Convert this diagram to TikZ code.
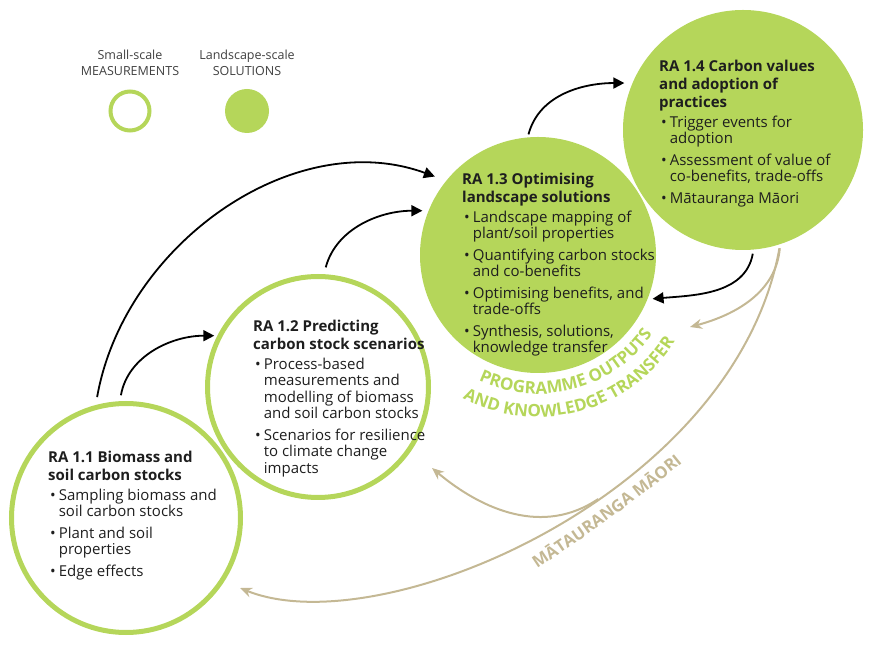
\documentclass[tikz,border=0pt]{standalone}
\usepackage{fontspec}
\setmainfont{Open Sans}
\usetikzlibrary{arrows.meta,decorations.text}
\definecolor{feuille}{RGB}{181,214,90}
\definecolor{sable}{RGB}{196,184,148}
\definecolor{encre}{RGB}{30,30,30}

\begin{document}
\begin{tikzpicture}[
    x=1pt, y=1pt,
    ra/.style={circle, inner sep=0pt, minimum size=#1},
    creux/.style={draw=feuille, line width=5pt},
    plein/.style={fill=feuille},
    texte/.style={anchor=north west, align=left, inner sep=0pt, text=encre,
      font=\fontsize{15}{16.5}\selectfont},
    legende/.style={align=center, inner sep=0pt, text=encre!85,
      font=\fontsize{12.5}{16}\selectfont},
    fleche/.style={line width=1.8pt, -{Triangle[length=11pt,width=11pt]}},
    retour/.style={draw=sable, line width=2pt, -{Stealth[length=12pt,width=10pt]}},
  ]
  \useasboundingbox (0,0) rectangle (870,645);

  % legende
  \node[ra=39, creux, line width=4pt] (leg1) at (130,534) {};
  \node[ra=44, plein] (leg2) at (247,534) {};
  \node[legende] (lt1) at (130,582) {Small-scale\\MEASUREMENTS};
  \node[legende] (lt2) at (247,582) {Landscape-scale\\SOLUTIONS};

  % les quatre cercles
  \node[ra=229, creux] (ra11) at (126,127) {};
  \node[ra=221, creux] (ra12) at (318,258) {};
  \node[ra=236, plein] (ra13) at (538,390) {};
  \node[ra=240, plein] (ra14) at (743,515) {};

  \node[texte] (t11) at (48,194.5) {\textbf{RA 1.1 Biomass and}\\[1.5pt]\textbf{soil carbon stocks}\\[3.5pt]
    \begin{tabular}[t]{@{\hspace{2pt}}l@{\hspace{3pt}}l@{}}
      \textbullet & Sampling biomass and\\ & soil carbon stocks\\[5pt]
      \textbullet & Plant and soil\\ & properties\\[5pt]
      \textbullet & Edge effects
    \end{tabular}};
  \node[texte] (t12) at (253,325.5) {\textbf{RA 1.2 Predicting}\\[1.5pt]\textbf{carbon stock scenarios}\\[3.5pt]
    \begin{tabular}[t]{@{\hspace{2pt}}l@{\hspace{3pt}}l@{}}
      \textbullet & Process-based\\ & measurements and\\ & modelling of biomass\\ & and soil carbon stocks\\[5pt]
      \textbullet & Scenarios for resilience\\ & to climate change\\ & impacts
    \end{tabular}};
  \node[texte] (t13) at (462,472.5) {\textbf{RA 1.3 Optimising}\\[1.5pt]\textbf{landscape solutions}\\[3.5pt]
    \begin{tabular}[t]{@{\hspace{2pt}}l@{\hspace{3pt}}l@{}}
      \textbullet & Landscape mapping of\\ & plant/soil properties\\[5pt]
      \textbullet & Quantifying carbon stocks\\ & and co-benefits\\[5pt]
      \textbullet & Optimising benefits, and\\ & trade-offs\\[5pt]
      \textbullet & Synthesis, solutions,\\ & knowledge transfer
    \end{tabular}};
  \node[texte] (t14) at (659,585.5) {\textbf{RA 1.4 Carbon values}\\[1.5pt]\textbf{and adoption of}\\[1.5pt]\textbf{practices}\\[3.5pt]
    \begin{tabular}[t]{@{\hspace{2pt}}l@{\hspace{3pt}}l@{}}
      \textbullet & Trigger events for\\ & adoption\\[5pt]
      \textbullet & Assessment of value of\\ & co-benefits, trade-offs\\[5pt]
      \textbullet & Mātauranga Māori
    \end{tabular}};

  % fleches noires
  \draw[fleche, shorten <=8pt, shorten >=12pt] (ra11.105) to[out=80, in=160] (ra13.141);
  \draw[fleche, shorten <=6pt, shorten >=3pt] (ra11.93) to[out=80, in=180] (ra12.153);
  \draw[fleche, shorten <=7pt, shorten >=6pt] (ra12.87) to[out=75, in=180] (ra13.158);
  \draw[fleche, shorten <=3pt, shorten >=8pt] (ra13.95) to[out=75, in=180] (ra14.157);
  \draw[fleche, shorten <=4pt, shorten >=5pt] (ra14.275) to[out=260, in=5] (ra13.338);

  % retours
  \coordinate (retA) at (690,318);
  \coordinate (retB) at (432,177);
  \coordinate (retC) at (240,57);
  \draw[retour, shorten <=4pt] (ra14.288) to[out=265, in=15] (retA);
  \draw[retour, shorten <=4pt] (ra14.288) .. controls (735,150) and (380,0) .. (retC)
    coordinate[pos=0.42] (fourche);
  \draw[retour] (fourche) to[out=214, in=-40] (retB);

  \path[decorate, decoration={text along path, text align=center,
      text={|\fontsize{17}{17}\selectfont\bfseries\color{feuille}|PROGRAMME OUTPUTS}}]
    (ra13.center) ++(225:139) arc[start angle=225, end angle=345, radius=139];
  \path[decorate, decoration={text along path, text align=center,
      text={|\fontsize{17}{17}\selectfont\bfseries\color{feuille}|AND KNOWLEDGE TRANSFER}}]
    (ra13.center) ++(215:162) arc[start angle=215, end angle=355, radius=162];
  \path[decorate, decoration={text along path, text align=center,
      text={|\fontsize{16.5}{16.5}\selectfont\bfseries\color{sable}|MĀTAURANGA MĀORI}}]
    (505,55) .. controls (570,97) and (640,145) .. (712,207);
\end{tikzpicture}
\end{document}
